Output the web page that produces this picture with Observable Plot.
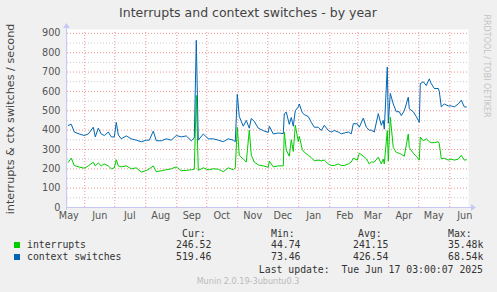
<!DOCTYPE html>
<html><head><meta charset="utf-8">
<script src="https://cdn.jsdelivr.net/npm/d3@7"></script>
<script src="https://cdn.jsdelivr.net/npm/@observablehq/plot@0.6"></script>
<style>html,body{margin:0;padding:0;background:#F0F0F0;}</style>
</head><body><div id="chart"></div>
<script>
const title = "Interrupts and context switches - by year";
const yLabel = "interrupts & ctx switches / second";
const seriesNames = ["interrupts", "context switches"];
const seriesColors = ["#00CC00", "#0066B3"];
const statHeaders = ["Cur:", "Min:", "Avg:", "Max:"];
const statInterrupts = ["246.52", "44.74", "241.15", "35.48k"];
const statContext = ["519.46", "73.46", "426.54", "68.54k"];
const lastUpdate = "Last update:  Tue Jun 17 03:00:07 2025";
const version = "Munin 2.0.19-3ubuntu0.3";
const watermark = "RRDTOOL / TOBI OETIKER";
const yTicks = [0,100,200,300,400,500,600,700,800,900];
const yMinor = [50,150,250,350,450,550,650,750,850];

const dates = ["2024-05-15","2024-05-18","2024-05-21","2024-05-26","2024-05-31","2024-06-04","2024-06-09","2024-06-11","2024-06-14","2024-06-17","2024-06-20","2024-06-24","2024-06-27","2024-06-30","2024-07-02","2024-07-04","2024-07-07","2024-07-12","2024-07-17","2024-07-22","2024-07-27","2024-08-01","2024-08-04","2024-08-08","2024-08-11","2024-08-16","2024-08-21","2024-08-26","2024-08-31","2024-09-05","2024-09-10","2024-09-15","2024-09-18","2024-09-20","2024-09-22","2024-09-27","2024-10-02","2024-10-07","2024-10-12","2024-10-17","2024-10-22","2024-10-27","2024-10-29","2024-10-31","2024-11-02","2024-11-06","2024-11-09","2024-11-12","2024-11-14","2024-11-17","2024-11-21","2024-11-26","2024-12-01","2024-12-02","2024-12-06","2024-12-11","2024-12-16","2024-12-17","2024-12-19","2024-12-22","2024-12-24","2024-12-26","2024-12-28","2024-12-31","2025-01-01","2025-01-04","2025-01-06","2025-01-10","2025-01-13","2025-01-16","2025-01-20","2025-01-23","2025-01-26","2025-01-30","2025-02-02","2025-02-05","2025-02-09","2025-02-12","2025-02-15","2025-02-19","2025-02-22","2025-02-24","2025-02-28","2025-03-02","2025-03-06","2025-03-09","2025-03-12","2025-03-14","2025-03-17","2025-03-21","2025-03-24","2025-03-26","2025-03-27","2025-03-30","2025-03-31","2025-04-02","2025-04-05","2025-04-08","2025-04-11","2025-04-13","2025-04-16","2025-04-20","2025-04-21","2025-04-25","2025-04-28","2025-05-01","2025-05-02","2025-05-05","2025-05-08","2025-05-11","2025-05-13","2025-05-16","2025-05-20","2025-05-21","2025-05-23","2025-05-26","2025-05-30","2025-06-02","2025-06-05","2025-06-09","2025-06-12","2025-06-15","2025-06-17"];
const contextSwitches = [424,430,390,380,372,380,415,365,410,380,372,390,365,365,440,375,355,370,355,348,340,348,348,395,345,345,355,348,372,365,370,345,360,864,348,380,355,355,348,340,355,348,340,585,470,420,450,410,460,445,410,397,388,420,380,385,382,484,493,430,465,420,500,520,535,490,480,470,440,415,415,398,425,398,390,398,390,381,385,390,381,433,433,415,462,415,400,400,390,485,425,450,405,726,435,590,535,495,495,475,500,570,510,495,470,440,640,650,630,665,640,615,615,600,520,535,525,525,520,535,555,520,519.46];
const interrupts = [234,255,217,209,203,215,234,215,230,215,225,215,200,205,247,215,210,215,200,205,183,191,200,215,185,190,195,200,210,190,192,195,198,579,192,205,195,200,198,185,205,195,205,415,270,250,235,400,270,235,220,215,208,240,210,215,215,389,297,265,350,290,425,340,368,300,286,270,258,241,245,241,245,225,217,217,225,217,217,225,235,255,245,281,265,252,225,235,235,260,225,250,225,398,240,467,310,285,280,275,265,380,310,280,265,245,364,345,355,340,335,335,340,330,252,255,245,250,245,250,270,245,246.52];

const data = dates.map((d, i) => ({date: new Date(d + "T12:00:00Z"), ctx: contextSwitches[i], intr: interrupts[i]}));
const monthStarts = d3.utcMonth.range(new Date("2024-06-01T00:00Z"), new Date("2025-06-02T00:00Z"));
const monthLabels = d3.utcMonth.range(new Date("2024-05-01T00:00Z"), new Date("2025-06-02T00:00Z")).map(m => d3.utcDay.offset(m, 15));

const chart = Plot.plot({
  width: 497, height: 292,
  marginLeft: 67, marginRight: 29, marginTop: 29, marginBottom: 85,
  style: {background: "#F0F0F0", fontFamily: "DejaVu Sans", fontSize: "9.7px", color: "#555"},
  x: {type: "utc", domain: [new Date(Date.UTC(2024,4,14,17)), new Date(Date.UTC(2025,5,19,17))]},
  y: {domain: [0, 920]},
  marks: [
    Plot.frame({fill: "white", stroke: null}),
    Plot.ruleY(yMinor, {stroke: "#C8C8C8", strokeDasharray: "1,2"}),
    Plot.ruleY(yTicks.slice(1), {stroke: "#F29494", strokeDasharray: "1,2"}),
    Plot.ruleX(monthStarts, {stroke: "#F29494", strokeDasharray: "1,2", y1: 0, y2: 905}),
    Plot.line(data, {x: "date", y: "intr", stroke: seriesColors[0], strokeWidth: 1}),
    Plot.line(data, {x: "date", y: "ctx", stroke: seriesColors[1], strokeWidth: 1}),
    Plot.axisX(monthLabels, {tickFormat: d3.utcFormat("%b"), tickSize: 0, tickPadding: 5, fill: "#555", label: null}),
    Plot.axisY(yTicks, {tickSize: 0, tickPadding: 7, fill: "#555", label: null})
  ]
});
document.getElementById("chart").appendChild(chart);

const svg = d3.select(chart);
const xs = chart.scale("x"), ys = chart.scale("y");
const x0 = xs.range[0] - 1, x1 = xs.range[1], y0 = ys.range[0], yTop = ys.range[1];
const axisColor = "#C8C8F4";
svg.append("line").attr("x1", x0).attr("x2", x1 + 4).attr("y1", y0 + 0.5).attr("y2", y0 + 0.5).attr("stroke", axisColor);
svg.append("line").attr("x1", x0 + 0.5).attr("x2", x0 + 0.5).attr("y1", y0 + 3).attr("y2", yTop - 2).attr("stroke", axisColor);
svg.append("path").attr("d", `M${x1+3},${y0-3}L${x1+8},${y0+0.5}L${x1+3},${y0+4}Z`).attr("fill", axisColor);
svg.append("path").attr("d", `M${x0-3},${yTop-1}L${x0+0.5},${yTop-6}L${x0+4},${yTop-1}Z`).attr("fill", axisColor);

const txt = (s, x, y, o = {}) => svg.append("text").attr("x", x).attr("y", y).text(s)
  .attr("font-family", o.family || "DejaVu Sans").attr("font-size", o.size || 10)
  .attr("fill", o.fill || "#333").attr("text-anchor", o.anchor || "start")
  .attr("transform", o.rotate ? `rotate(${o.rotate},${x},${y})` : null)
  .style("white-space", "pre");

txt(title, 248, 17, {size: 12.5, anchor: "middle", fill: "#444"});
txt(yLabel, 14, 119, {size: 11.2, anchor: "middle", fill: "#444", rotate: -90});
txt(watermark, 483.5, 66, {size: 8, anchor: "middle", fill: "#C4C4C4", rotate: 90});

const mono = "DejaVu Sans Mono";
const hx = [182, 271, 358, 448];
statHeaders.forEach((h, i) => txt(h, hx[i], 237, {family: mono, size: 9.8}));
const vx = [176, 271, 353, 448];
statInterrupts.forEach((v, i) => txt(v, vx[i], 248, {family: mono, size: 9.8}));
statContext.forEach((v, i) => txt(v, vx[i], 260, {family: mono, size: 9.8}));
seriesNames.forEach((n, i) => {
  svg.append("rect").attr("x", 14).attr("y", 242 + i * 12).attr("width", 6).attr("height", 6).attr("fill", seriesColors[i]);
  txt(n, 27, 248 + i * 12, {family: mono, size: 9.8});
});
txt(lastUpdate, 483, 273, {family: mono, size: 9.8, anchor: "end"});
txt(version, 248, 284, {size: 8.1, anchor: "middle", fill: "#BBBBBB"});
</script></body></html>
